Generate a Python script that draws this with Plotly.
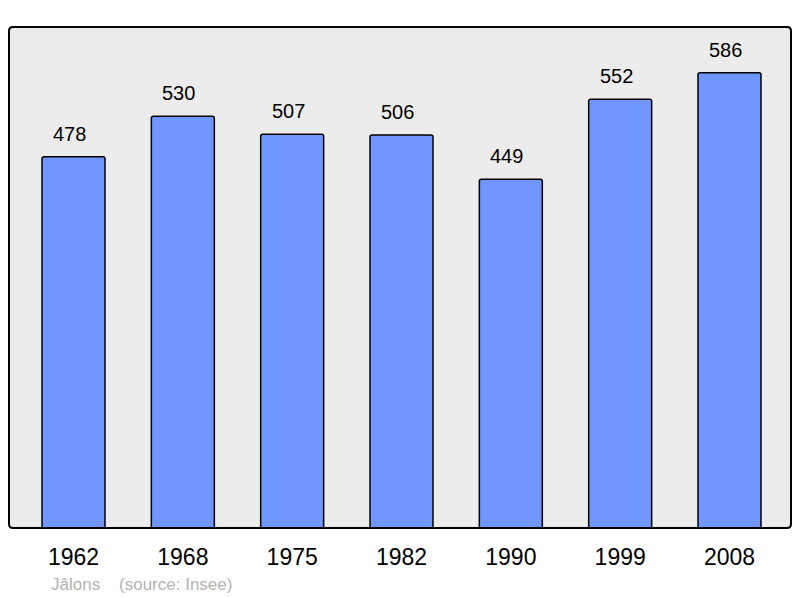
import plotly.graph_objects as go

# population de Jâlons (source: Insee)
annees = ['1962', '1968', '1975', '1982', '1990', '1999', '2008']
population = [478, 530, 507, 506, 449, 552, 586]

W, H = 800, 598
ml, mr, mt, mb = 9, 9, 27, 70
pw, ph = W - ml - mr, H - mt - mb

fig = go.Figure()

fig.add_trace(go.Bar(
    x=annees,
    y=population,
    width=0.576,
    marker=dict(color='#7097ff', line=dict(color='black', width=1.5)),
    hoverinfo='x+y',
))

# etiquettes au-dessus des barres (x = index de la categorie)
for i, p in enumerate(population):
    fig.add_annotation(x=i, y=p, text=str(p), showarrow=False,
                       yanchor='bottom', yshift=10, xshift=-4,
                       font=dict(family='Liberation Sans, Arial', size=20, color='black'))

fig.add_annotation(xref='paper', yref='paper', x=0.051, y=-0.112,
                   xanchor='left', yanchor='middle', showarrow=False,
                   text='Jâlons    (source: Insee)',
                   font=dict(family='Liberation Sans, Arial', size=17, color='#b3b3b3'))

# cadre aux coins arrondis
rx, ry = 4 / pw, 4 / ph
cadre = (f"M {rx},0 L {1-rx},0 Q 1,0 1,{ry} L 1,{1-ry} Q 1,1 {1-rx},1 "
         f"L {rx},1 Q 0,1 0,{1-ry} L 0,{ry} Q 0,0 {rx},0 Z")
fig.add_shape(type='path', xref='paper', yref='paper', path=cadre,
              line=dict(color='black', width=2), layer='above')

fig.update_xaxes(type='category', range=[-0.59, 6.5625], showgrid=False, zeroline=False,
                 showline=False, ticks='', ticklabelstandoff=13,
                 tickfont=dict(family='Liberation Sans, Arial', size=23, color='black'))
fig.update_yaxes(range=[0, 645], showgrid=False, zeroline=False,
                 showticklabels=False, ticks='')

fig.update_layout(
    width=W, height=H,
    margin=dict(l=ml, r=mr, t=mt, b=mb),
    plot_bgcolor='#ececec',
    paper_bgcolor='white',
    barcornerradius=2,
    showlegend=False,
)

fig.write_html("out.html", config={'displayModeBar': False},
               post_script="document.body.style.margin='0';")
